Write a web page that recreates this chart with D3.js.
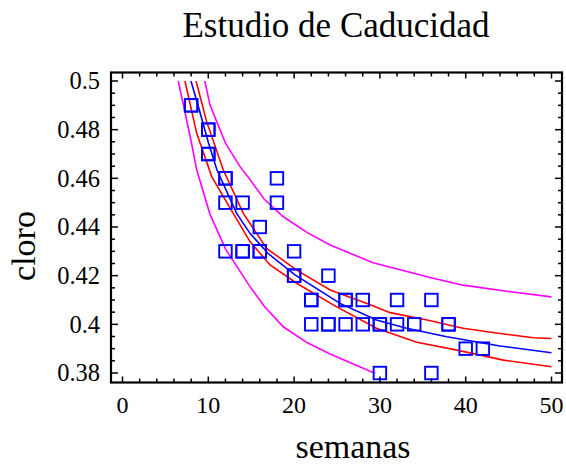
<!DOCTYPE html>
<html><head><meta charset="utf-8">
<script src="https://cdn.jsdelivr.net/npm/d3@7"></script>
<style>body{margin:0;background:#fff}svg{display:block}</style>
</head><body>
<script>
// Observed data (semanas, cloro)
const semanas = [8,8,10,10,10,10,12,12,12,12,14,14,14,16,16,16,18,18,20,20,20,22,22,22,24,24,24,26,26,26,28,28,30,30,30,32,32,34,36,36,38,38,40,42];
const cloro   = [.49,.49,.48,.47,.48,.47,.46,.46,.45,.43,.45,.43,.43,.44,.43,.43,.46,.45,.42,.42,.43,.41,.41,.40,.42,.40,.40,.41,.40,.41,.41,.40,.40,.40,.38,.41,.40,.40,.41,.38,.40,.40,.39,.39];

// Curves: [semanas, cloro]
const fitLine   = [[7.98,.5],[8.8,.49],[10,.4748],[11,.4635],[13.3,.4456],[14.86,.4374],[17,.429],[20.1,.4203],[25.35,.4086],[29.6,.4018],[33,.3985],[37.8,.3949],[44,.3911],[50,.3883]];
const confUpper = [[8.57,.5],[9.81,.4833],[11.75,.4634],[14.08,.4456],[16.8,.4312],[20.3,.4223],[24.2,.4141],[28.5,.4086],[31.2,.4048],[35.5,.4018],[39.7,.3984],[44,.3962],[47.9,.3945],[50,.3942]];
const confLower = [[7.28,.5],[8.65,.4785],[10.4,.4607],[12.9,.4456],[14.86,.434],[17.2,.4244],[20.3,.4169],[24.6,.4079],[29.6,.3984],[34.3,.3926],[39,.3894],[44.4,.3853],[50,.3826]];
const predUpper = [[9.6,.5],[10.2,.4901],[12,.4745],[13.7,.4648],[14.9,.4593],[16.5,.4515],[18.74,.4442],[21.5,.4378],[24.2,.4326],[29.2,.4253],[36.2,.4189],[39.7,.4161],[45,.4135],[50,.4113]];
const predLower = [[6.5,.5],[7.9,.477],[8.65,.4635],[10.2,.4452],[12,.4310],[14.86,.4155],[16.5,.4075],[18.74,.399],[21.5,.3925],[24.2,.3878],[29.6,.3796]];

const xTicks = [0,10,20,30,40,50];
const yTicks = [0.38,0.40,0.42,0.44,0.46,0.48,0.5];
const yTickLabels = ["0.38","0.4","0.42","0.44","0.46","0.48","0.5"];

const W = 566, H = 464;
const svg = d3.select("body").append("svg").attr("width", W).attr("height", H);

const x = d3.scaleLinear().domain([0, 50]).range([122.5, 551.5]);
const y = d3.scaleLinear().domain([0.38, 0.5]).range([373, 81]);
const frame = {l: 111, r: 562, t: 72.5, b: 382.5};

// clip for curves
svg.append("defs").append("clipPath").attr("id","clip")
  .append("rect").attr("x", frame.l).attr("y", y(0.5)).attr("width", frame.r - frame.l).attr("height", y(0.38) - y(0.5));

const line = d3.line().x(d => x(d[0])).y(d => y(d[1]));
const curves = svg.append("g").attr("clip-path","url(#clip)");
[[predUpper,"#ff00ff"],[predLower,"#ff00ff"],[confUpper,"#ff0000"],[confLower,"#ff0000"],[fitLine,"#0000ff"]].forEach(([d,c]) => {
  curves.append("path").attr("d", line(d)).attr("fill","none").attr("stroke", c).attr("stroke-width", 1.6);
});

// points
const sq = 12.5;
svg.append("g").selectAll("rect").data(semanas.map((s,i)=>[s,cloro[i]])).join("rect")
  .attr("x", d => x(d[0]) - sq/2).attr("y", d => y(d[1]) - sq/2)
  .attr("width", sq).attr("height", sq)
  .attr("fill","none").attr("stroke","#0000ff").attr("stroke-width",1.9);

// ticks (inward) on all four sides
const g = svg.append("g").attr("stroke","#000").attr("stroke-width",1.5);
const xMinor = d3.range(0, 51, 2);
xMinor.forEach(v => {
  const len = (v % 10 === 0) ? 6 : 4;
  g.append("line").attr("x1", x(v)).attr("x2", x(v)).attr("y1", frame.b).attr("y2", frame.b - len);
  g.append("line").attr("x1", x(v)).attr("x2", x(v)).attr("y1", frame.t).attr("y2", frame.t + len);
});
const yMinor = d3.range(0, 25).map(i => 0.38 + i*0.005);
yMinor.forEach((v,i) => {
  const len = (i % 4 === 0) ? 7 : 4;
  g.append("line").attr("x1", frame.l).attr("x2", frame.l + len).attr("y1", y(v)).attr("y2", y(v));
  g.append("line").attr("x1", frame.r).attr("x2", frame.r - len).attr("y1", y(v)).attr("y2", y(v));
});

// frame
svg.append("rect").attr("x", frame.l).attr("y", frame.t).attr("width", frame.r - frame.l).attr("height", frame.b - frame.t)
  .attr("fill","none").attr("stroke","#000").attr("stroke-width",2.2);

const font = "'Liberation Serif','Times New Roman',serif";
// tick labels
svg.append("g").selectAll("text").data(xTicks).join("text")
  .attr("x", d => x(d)).attr("y", 413).attr("text-anchor","middle")
  .attr("font-family", font).attr("font-size", 24).text(d => d);
svg.append("g").selectAll("text").data(yTicks).join("text")
  .attr("x", 100).attr("y", d => y(d)).attr("dy","0.34em").attr("text-anchor","end")
  .attr("font-family", font).attr("font-size", 24.5).text((d,i) => yTickLabels[i]);

// titles
svg.append("text").attr("x", 336).attr("y", 37).attr("text-anchor","middle")
  .attr("font-family", font).attr("font-size", 35).text("Estudio de Caducidad");
svg.append("text").attr("x", 353).attr("y", 458).attr("text-anchor","middle")
  .attr("font-family", font).attr("font-size", 34).text("semanas");
svg.append("text").attr("transform","translate(35,246) rotate(-90)").attr("text-anchor","middle")
  .attr("font-family", font).attr("font-size", 34).text("cloro");
</script>
</body></html>
